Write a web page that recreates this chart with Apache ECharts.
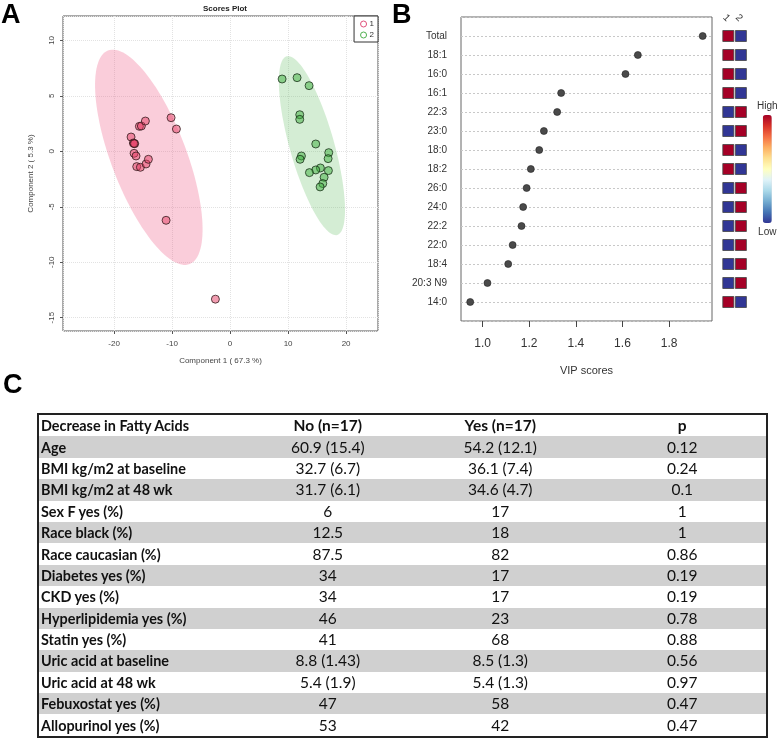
<!DOCTYPE html>
<html>
<head>
<meta charset="utf-8">
<script src="https://cdn.jsdelivr.net/npm/echarts@6/dist/echarts.min.js"></script>
<style>
    body { margin: 0; background: #fff; }
    #main { position: absolute; left: 0; top: 0; width: 777px; height: 740px; }
    #tbl {
        position: absolute; left: 37px; top: 413px; width: 731px;
        border: 2px solid #222; border-collapse: collapse; table-layout: fixed;
        font-family: Lato, "Liberation Sans", sans-serif; font-size: 15.5px; color: #111;
    }
    #tbl td { height: 21.4px; padding: 0; line-height: 15px; text-align: center; white-space: nowrap; }
    #tbl td.lab { text-align: left; padding-left: 2px; font-weight: bold; font-size: 14.4px; }
    #tbl tr.head td { font-weight: bold; }
    #tbl tr.grey td { background: #d0d0d0; }
</style>
</head>
<body>
<div id="main"></div>
<table id="tbl">
    <colgroup><col style="width:206px"><col style="width:166px"><col style="width:178px"><col style="width:177px"></colgroup>
    <tbody id="tbody"></tbody>
</table>
<script>
    // panel A: PLS-DA scores
    const group1X = [-17.07, -16.67, -16.44, -16.55, -15.63, -15.29, -14.60, -10.17, -9.25, -16.55, -16.21, -16.09, -15.46, -14.48, -14.08, -11.03, -2.53];
    const group1Y = [1.29, 0.75, 0.69, 0.70, 2.25, 2.28, 2.73, 3.03, 2.01, -0.18, -0.42, -1.38, -1.44, -1.14, -0.72, -6.22, -13.33];
    const group2X = [8.97, 11.55, 13.62, 12.01, 12.01, 14.77, 17.01, 16.90, 12.30, 12.07, 15.57, 14.77, 13.68, 16.95, 16.21, 15.98, 15.52];
    const group2Y = [6.52, 6.64, 5.92, 3.30, 2.88, 0.66, -0.12, -0.66, -0.42, -0.72, -1.50, -1.68, -1.92, -1.74, -2.34, -2.91, -3.21];

    // panel B: VIP scores and group levels (1 = high, 0 = low)
    const fattyAcids = ['Total', '18:1', '16:0', '16:1', '22:3', '23:0', '18:0', '18:2', '26:0', '24:0', '22:2', '22:0', '18:4', '20:3 N9', '14:0'];
    const vipScores = [1.944, 1.666, 1.613, 1.337, 1.320, 1.263, 1.243, 1.207, 1.189, 1.174, 1.167, 1.129, 1.110, 1.021, 0.947];
    const groups = ['1', '2'];
    const level1 = [1, 1, 1, 1, 0, 0, 1, 1, 0, 0, 0, 0, 0, 0, 1];
    const level2 = [0, 0, 0, 0, 1, 1, 0, 0, 1, 1, 1, 1, 1, 1, 0];

    // panel C: table
    const tableHeader = ['Decrease in Fatty Acids', 'No (n=17)', 'Yes (n=17)', 'p'];
    const rowLabels = ['Age', 'BMI kg/m2 at baseline', 'BMI kg/m2 at 48 wk', 'Sex F yes (%)', 'Race black (%)', 'Race caucasian (%)', 'Diabetes yes (%)', 'CKD yes (%)', 'Hyperlipidemia yes (%)', 'Statin yes (%)', 'Uric acid at baseline', 'Uric acid at 48 wk', 'Febuxostat yes (%)', 'Allopurinol yes (%)'];
    const noValues = ['60.9 (15.4)', '32.7 (6.7)', '31.7 (6.1)', '6', '12.5', '87.5', '34', '34', '46', '41', '8.8 (1.43)', '5.4 (1.9)', '47', '53'];
    const yesValues = ['54.2 (12.1)', '36.1 (7.4)', '34.6 (4.7)', '17', '18', '82', '17', '17', '23', '68', '8.5 (1.3)', '5.4 (1.3)', '58', '42'];
    const pValues = ['0.12', '0.24', '0.1', '1', '1', '0.86', '0.19', '0.19', '0.78', '0.88', '0.56', '0.97', '0.47', '0.47'];

    // table rows
    (function () {
        const tb = document.getElementById('tbody');
        let html = '<tr class="head">' + tableHeader.map((h, i) => '<td class="' + (i === 0 ? 'lab' : '') + '"' + (i === 3 ? ' style="padding-left:9px"' : '') + '>' + h + '</td>').join('') + '</tr>';
        rowLabels.forEach((lab, i) => {
            html += '<tr class="' + (i % 2 === 0 ? 'grey' : '') + '"><td class="lab">' + lab + '</td><td>' + noValues[i] + '</td><td>' + yesValues[i] + '</td><td style="padding-left:9px">' + pValues[i] + '</td></tr>';
        });
        tb.innerHTML = html;
    })();

    function zipXY(xs, ys) { return xs.map((x, i) => [x, ys[i]]); }

    // 95% confidence ellipse of a group, drawn in data space
    function ellipseRender(xs, ys, fill) {
        return function (params, api) {
            const n = xs.length;
            const mx = xs.reduce((a, b) => a + b, 0) / n;
            const my = ys.reduce((a, b) => a + b, 0) / n;
            let sxx = 0, syy = 0, sxy = 0;
            for (let i = 0; i < n; i++) {
                sxx += (xs[i] - mx) * (xs[i] - mx);
                syy += (ys[i] - my) * (ys[i] - my);
                sxy += (xs[i] - mx) * (ys[i] - my);
            }
            sxx /= n - 1; syy /= n - 1; sxy /= n - 1;
            const t = (sxx + syy) / 2, d = Math.sqrt((sxx - syy) * (sxx - syy) / 4 + sxy * sxy);
            const a = Math.sqrt(5.991 * (t + d)), b = Math.sqrt(5.991 * Math.max(t - d, 0));
            const th = 0.5 * Math.atan2(2 * sxy, sxx - syy);
            const pts = [];
            for (let k = 0; k < 120; k++) {
                const u = k / 120 * Math.PI * 2;
                const ex = mx + a * Math.cos(u) * Math.cos(th) - b * Math.sin(u) * Math.sin(th);
                const ey = my + a * Math.cos(u) * Math.sin(th) + b * Math.sin(u) * Math.cos(th);
                pts.push(api.coord([ex, ey]));
            }
            return { type: 'polygon', shape: { points: pts }, style: { fill: fill } };
        };
    }

    const heatData = [];
    fattyAcids.forEach((f, i) => {
        heatData.push([0, i, level1[i]]);
        heatData.push([1, i, level2[i]]);
    });

    const chart = echarts.init(document.getElementById('main'));
    const axisGrey = '#555';

    chart.setOption({
        animation: false,
        textStyle: { fontFamily: 'Liberation Sans' },
        title: {
            text: 'Scores Plot', left: 220, top: 0, textAlign: 'center',
            textStyle: { fontSize: 8, fontWeight: 'bold', color: '#222' }
        },
        legend: {
            orient: 'vertical', right: 399, top: 16, padding: [4, 4, 3, 6],
            itemWidth: 6, itemHeight: 6, itemGap: 3, icon: 'circle',
            backgroundColor: '#fff', borderColor: '#333', borderWidth: 1,
            textStyle: { fontSize: 8, color: '#333', padding: [0, 0, 0, -2] },
            data: [
                { name: '1', itemStyle: { color: 'transparent', borderColor: '#e0507a', borderWidth: 1 } },
                { name: '2', itemStyle: { color: 'transparent', borderColor: '#4fb04f', borderWidth: 1 } }
            ]
        },
        grid: [
            { left: 63, top: 16, width: 315, height: 315, show: true, borderColor: axisGrey, borderWidth: 1 },
            { left: 461, top: 17, width: 251, height: 304, show: true, borderColor: '#666', borderWidth: 1 },
            { left: 722, top: 17, width: 25.2, height: 304 }
        ],
        xAxis: [
            {
                gridIndex: 0, type: 'value', min: -28.8, max: 25.5,
                name: 'Component 1 ( 67.3 %)', nameLocation: 'middle', nameGap: 26,
                nameTextStyle: { fontSize: 8, color: '#444' },
                axisLine: { show: false, onZero: false },
                axisTick: { show: true, length: 3, lineStyle: { color: axisGrey } },
                axisLabel: { fontSize: 8, color: '#444', margin: 9, showMinLabel: false, showMaxLabel: false },
                splitLine: { lineStyle: { color: '#e2e2e2', type: 'dotted' } }
            },
            {
                gridIndex: 1, type: 'value', min: 0.9075, max: 1.984,
                name: 'VIP scores', nameLocation: 'middle', nameGap: 44,
                nameTextStyle: { fontSize: 11, color: '#333' },
                axisLine: { show: false, onZero: false },
                axisTick: { show: true, length: 6, lineStyle: { color: '#444' } },
                axisLabel: {
                    fontSize: 12, color: '#333', margin: 17, showMinLabel: false, showMaxLabel: false,
                    formatter: v => v.toFixed(1)
                },
                splitLine: { show: false }
            },
            {
                gridIndex: 2, type: 'category', data: groups, position: 'top', boundaryGap: true,
                axisLine: { show: false, onZero: false }, axisTick: { show: false }, splitLine: { show: false },
                axisLabel: { fontSize: 10, color: '#333', margin: -3, rotate: 45, interval: 0 }
            }
        ],
        yAxis: [
            {
                gridIndex: 0, type: 'value', min: -16.2, max: 12.2,
                name: 'Component 2 ( 5.3 %)', nameLocation: 'middle', nameGap: 28,
                nameTextStyle: { fontSize: 8, color: '#444' },
                axisLine: { show: false, onZero: false },
                axisTick: { show: true, length: 3, lineStyle: { color: axisGrey } },
                axisLabel: { fontSize: 8, color: '#444', rotate: 90, margin: 7, showMinLabel: false, showMaxLabel: false },
                splitLine: { lineStyle: { color: '#e2e2e2', type: 'dotted' } }
            },
            {
                gridIndex: 1, type: 'value', min: -1, max: 15, interval: 1, inverse: true,
                axisLine: { show: false, onZero: false }, axisTick: { show: false },
                axisLabel: {
                    fontSize: 10, color: '#333', margin: 14,
                    formatter: v => (v >= 0 && v < fattyAcids.length ? fattyAcids[v] : '')
                },
                splitLine: { lineStyle: { color: '#c8c8c8', type: [2, 2] } }
            },
            {
                gridIndex: 2, type: 'value', min: -1, max: 15, interval: 1, inverse: true,
                axisLine: { show: false, onZero: false }, axisTick: { show: false }, axisLabel: { show: false }, splitLine: { show: false }
            }
        ],
        visualMap: {
            type: 'continuous', seriesIndex: 5, dimension: 2, min: 0, max: 1,
            calculable: false, orient: 'vertical', left: 742, top: 86,
            itemWidth: 9, itemHeight: 108, text: ['High', 'Low'], textGap: 4,
            textStyle: { fontSize: 10, color: '#333' },
            inRange: {
                color: ['#313695', '#4575b4', '#74add1', '#abd9e9', '#e0f3f8', '#ffffbf', '#fee090', '#fdae61', '#f46d43', '#d73027', '#a50026']
            }
        },
        graphic: [
            { type: 'text', left: 1, top: 2, style: { text: 'A', fontSize: 27, fontWeight: 'bold', fill: '#000', fontFamily: 'Liberation Sans' } },
            { type: 'text', left: 392, top: 2, style: { text: 'B', fontSize: 27, fontWeight: 'bold', fill: '#000', fontFamily: 'Liberation Sans' } },
            { type: 'text', left: 3, top: 372, style: { text: 'C', fontSize: 27, fontWeight: 'bold', fill: '#000', fontFamily: 'Liberation Sans' } }
        ],
        series: [
            {
                type: 'custom', name: 'ellipse1', xAxisIndex: 0, yAxisIndex: 0, silent: true, z: 1,
                renderItem: ellipseRender(group1X, group1Y, 'rgba(240,100,140,0.32)'),
                data: [[group1X[0], group1Y[0]]]
            },
            {
                type: 'custom', name: 'ellipse2', xAxisIndex: 0, yAxisIndex: 0, silent: true, z: 1,
                renderItem: ellipseRender(group2X, group2Y, 'rgba(100,190,100,0.28)'),
                data: [[group2X[0], group2Y[0]]]
            },
            {
                type: 'scatter', name: '1', xAxisIndex: 0, yAxisIndex: 0, symbolSize: 8, z: 3,
                itemStyle: { color: 'rgba(230,60,100,0.5)', borderColor: 'rgba(40,20,20,0.75)', borderWidth: 1, opacity: 1 },
                data: zipXY(group1X, group1Y)
            },
            {
                type: 'scatter', name: '2', xAxisIndex: 0, yAxisIndex: 0, symbolSize: 8, z: 3,
                itemStyle: { color: 'rgba(60,175,60,0.5)', borderColor: 'rgba(20,40,20,0.75)', borderWidth: 1, opacity: 1 },
                data: zipXY(group2X, group2Y)
            },
            {
                type: 'scatter', name: 'VIP', xAxisIndex: 1, yAxisIndex: 1, symbolSize: 7,
                itemStyle: { color: '#4a4a4a', borderColor: '#222', borderWidth: 0.6, opacity: 1 },
                data: vipScores.map((v, i) => [v, i])
            },
            {
                type: 'scatter', name: 'levels', xAxisIndex: 2, yAxisIndex: 2, symbol: 'rect', symbolSize: 11,
                itemStyle: { borderColor: '#444', borderWidth: 0.8, opacity: 1 },
                data: heatData
            }
        ]
    });
</script>
</body>
</html>
